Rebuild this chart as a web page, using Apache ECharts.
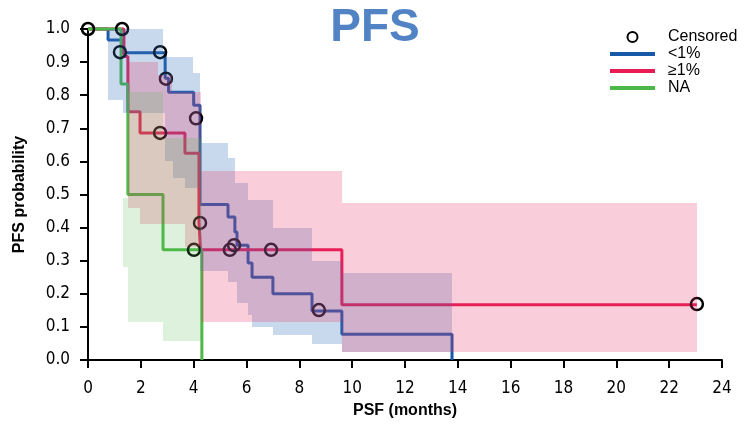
<!DOCTYPE html>
<html>
<head>
<meta charset="utf-8">
<script src="https://cdn.jsdelivr.net/npm/echarts@6/dist/echarts.min.js"></script>
<style>
html, body { margin: 0; padding: 0; background: #fff; }
#chart { width: 750px; height: 427px; }
</style>
</head>
<body>
<div id="chart"></div>
<script>
// Kaplan-Meier curves: step times (months) and survival
const blueT = [0, 0.76, 1.32, 2.92, 3.05, 4.0, 4.24, 5.30, 5.56, 5.64, 6.06, 6.21, 7.0, 8.48, 9.61, 13.78];
const blueS = [1.0, 0.967, 0.928, 0.851, 0.809, 0.770, 0.47, 0.432, 0.387, 0.347, 0.293, 0.25, 0.2, 0.148, 0.078, 0];
const redT = [0, 1.36, 1.51, 1.97, 3.67, 4.20, 4.26, 9.61, 23.05];
const redS = [1.0, 0.917, 0.75, 0.686, 0.625, 0.417, 0.333, 0.167, 0.167];
const greenT = [0, 1.25, 1.51, 2.84, 4.31];
const greenS = [1.0, 0.834, 0.5, 0.333, 0];

// confidence bands: segment edges, lower and upper per segment
const blueBandT = [0.76, 1.32, 2.84, 2.92, 3.2, 3.67, 3.99, 4.24, 5.30, 5.56, 5.64, 6.06, 6.21, 7.0, 8.48, 9.61, 13.78];
const blueLo = [0.785, 0.745, 0.745, 0.60, 0.55, 0.52, 0.52, 0.27, 0.236, 0.236, 0.172, 0.136, 0.10, 0.075, 0.048, 0.024];
const blueHi = [1.0, 1.0, 0.915, 0.915, 0.915, 0.915, 0.867, 0.655, 0.61, 0.535, 0.535, 0.483, 0.483, 0.40, 0.30, 0.263];
const redBandT = [1.51, 1.97, 2.65, 3.18, 3.67, 4.26, 9.61, 23.05];
const redLo = [0.46, 0.41, 0.41, 0.41, 0.34, 0.115, 0.024];
const redHi = [0.90, 0.90, 0.86, 0.81, 0.81, 0.57, 0.474];
const greenBandT = [1.32, 1.51, 2.84, 4.31];
const greenLo = [0.28, 0.115, 0.057];
const greenHi = [0.49, 0.81, 0.67];

// censored marks
const censT = [0, 1.29, 1.21, 2.73, 2.95, 4.09, 4.24, 2.73, 4.01, 5.37, 5.53, 6.93, 8.74, 23.05];
const censS = [1.0, 1.0, 0.93, 0.93, 0.85, 0.73, 0.414, 0.686, 0.333, 0.333, 0.347, 0.333, 0.151, 0.169];

const groups = ['<1%', '\u22651%', 'NA'];
const tickFont = "'Liberation Sans Narrow', 'DejaVu Sans Condensed', Arial, sans-serif";

function kmLine(name, t, s, color) {
    return {
        name: name,
        type: 'line',
        step: 'end',
        symbol: 'none',
        clip: false,
        z: 2,
        data: t.map((v, i) => [v, s[i]]),
        lineStyle: { color: color, width: 3 },
        itemStyle: { color: color }
    };
}

function band(name, t, lo, hi, color) {
    return {
        name: name,
        type: 'custom',
        silent: true,
        z: 5,
        data: lo.map((v, i) => [t[i], t[i + 1], v, hi[i]]),
        encode: { x: [0, 1], y: [2, 3] },
        renderItem: function(params, api) {
            const p0 = api.coord([api.value(0), api.value(3)]);
            const p1 = api.coord([api.value(1), api.value(2)]);
            const x0 = Math.round(p0[0]), x1 = Math.round(p1[0]);
            const y0 = Math.round(p0[1]), y1 = Math.round(p1[1]);
            return {
                type: 'rect',
                shape: { x: x0, y: y0, width: x1 - x0, height: y1 - y0 },
                style: { fill: color }
            };
        }
    };
}

const myChart = echarts.init(document.getElementById('chart'));
const option = {
    animation: false,
    title: {
        text: 'PFS',
        left: 'center',
        top: 0,
        textStyle: { color: '#5283c4', fontSize: 46, fontWeight: 'bold', fontFamily: 'Arial, sans-serif' }
    },
    legend: {
        // hide the dot that line series put in their legend icon
        data: ['Censored'].concat(groups.map(g => ({ name: g, itemStyle: { opacity: 0 } }))),
        orient: 'vertical',
        left: 603,
        top: 24,
        itemWidth: 45,
        itemHeight: 10,
        itemGap: 1,
        lineStyle: { width: 4 },
        textStyle: { fontSize: 16, color: '#000', fontFamily: 'Arial, sans-serif', lineHeight: 16, padding: [0, 0, 0, 8] }
    },
    grid: { left: 88, right: 28, top: 29, bottom: 67 },
    xAxis: {
        type: 'value',
        min: 0,
        max: 24,
        interval: 2,
        name: 'PSF (months)',
        nameLocation: 'middle',
        nameGap: 43,
        nameTextStyle: { fontSize: 16, fontWeight: 'bold', color: '#000', fontFamily: 'Arial, sans-serif' },
        axisLine: { lineStyle: { color: '#000', width: 2 } },
        axisTick: { length: 8, lineStyle: { color: '#000', width: 2 } },
        axisLabel: { color: '#000', fontSize: 17, margin: 20, fontFamily: tickFont },
        splitLine: { show: false }
    },
    yAxis: {
        type: 'value',
        min: 0,
        max: 1,
        interval: 0.1,
        name: 'PFS probability',
        nameLocation: 'middle',
        nameGap: 60,
        nameTextStyle: { fontSize: 16, fontWeight: 'bold', color: '#000', fontFamily: 'Arial, sans-serif' },
        axisLine: { show: true, lineStyle: { color: '#000', width: 2 } },
        axisTick: { show: true, length: 8, lineStyle: { color: '#000', width: 2 } },
        axisLabel: { color: '#000', fontSize: 17, margin: 18, fontFamily: tickFont, formatter: v => v.toFixed(1) },
        splitLine: { show: false }
    },
    series: [
        kmLine(groups[0], blueT, blueS, '#1858a8'),
        kmLine(groups[1], redT, redS, '#e81c55'),
        kmLine(groups[2], greenT, greenS, '#4cb848'),
        {
            name: 'Censored',
            type: 'scatter',
            symbol: 'circle',
            symbolSize: 12,
            clip: false,
            z: 3,
            data: censT.map((v, i) => [v, censS[i]]),
            itemStyle: { color: 'rgba(0,0,0,0)', borderColor: '#000', borderWidth: 2.5, opacity: 1 }
        },
        band('CI <1%', blueBandT, blueLo, blueHi, 'rgba(60,120,190,0.28)'),
        band('CI \u22651%', redBandT, redLo, redHi, 'rgba(235,40,95,0.23)'),
        band('CI NA', greenBandT, greenLo, greenHi, 'rgba(90,185,80,0.2)')
    ]
};
myChart.setOption(option);
window.addEventListener('resize', function() {
    myChart.resize();
});
</script>
</body>
</html>
